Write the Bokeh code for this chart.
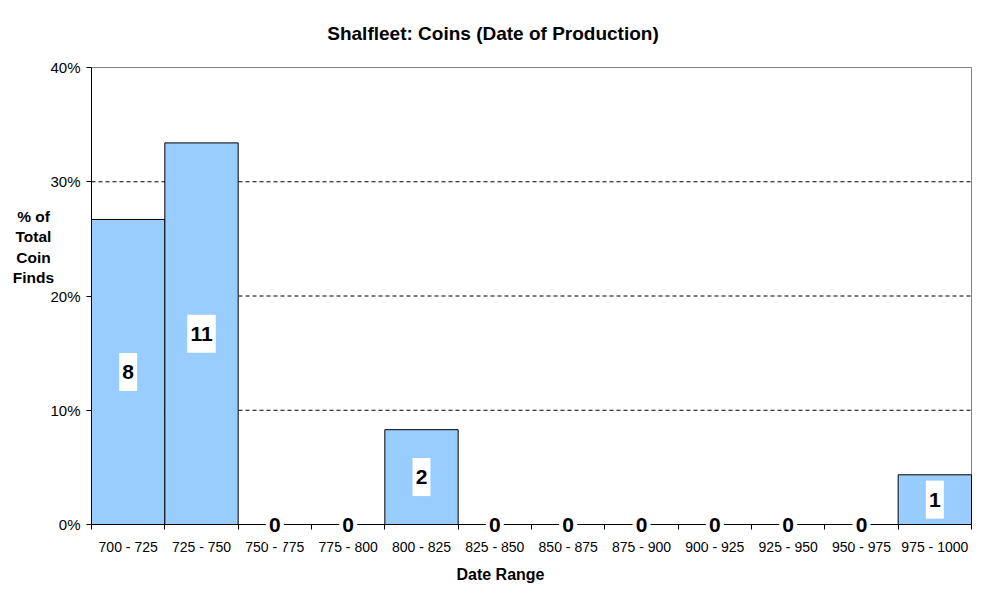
from bokeh.plotting import figure
from bokeh.models import (FixedTicker, PrintfTickFormatter, Range1d, Label,
                          LinearAxis, ColumnDataSource)
from bokeh.embed import file_html
from bokeh.resources import INLINE

date_ranges = ["700 - 725", "725 - 750", "750 - 775", "775 - 800", "800 - 825",
               "825 - 850", "850 - 875", "875 - 900", "900 - 925", "925 - 950",
               "950 - 975", "975 - 1000"]
coin_counts = [8, 11, 0, 0, 2, 0, 0, 0, 0, 0, 0, 1]
pct_of_total = [26.7, 33.4, 0, 0, 8.3, 0, 0, 0, 0, 0, 0, 4.35]
y_ticks = [0, 10, 20, 30, 40]

FONT = "Liberation Sans"
W, H = 987, 606
FL, FR, FT, FB = 91, 971, 67, 524          # plot-area edges in pixels

n = len(date_ranges)
centers = [i + 0.5 for i in range(n)]
edges = list(range(n + 1))
ymin, ymax = y_ticks[0], y_ticks[-1]
sx = (FR - FL) / n
sy = (FB - FT) / (ymax - ymin)


def px(xp, yp):
    return (xp - FL) / sx, ymin + (FB - yp) / sy


p = figure(width=W, height=H, output_backend="svg", toolbar_location=None,
           x_range=Range1d(-FL / sx, n + (W - FR) / sx),
           y_range=Range1d(ymin - (H - FB) / sy, ymax + FT / sy),
           x_axis_location=None, y_axis_location=None, min_border=0)
p.background_fill_color = "white"
p.border_fill_color = "white"
p.outline_line_color = None
p.grid.visible = False

# dashed grid lines across the plot area
grid_y = y_ticks[1:-1]
p.segment(x0=[0] * len(grid_y), x1=[n] * len(grid_y), y0=grid_y, y1=grid_y,
          line_color="black", line_dash="4 3", line_width=1)
# gray top / right border of plot area
p.segment(x0=[0, n], x1=[n, n], y0=[ymax, ymin], y1=[ymax, ymax],
          line_color="#808080", line_width=1)

labels = [str(c) for c in coin_counts]
src = ColumnDataSource(dict(
    x=centers, top=pct_of_total, mid=[v / 2 for v in pct_of_total],
    box_w=[7.5 + 10.5 * len(t) for t in labels],
))
p.vbar(x="x", top="top", bottom=0, width=1, source=src,
       fill_color="#99CCFF", line_color="black", line_width=1)

# y axis
yaxis = LinearAxis(fixed_location=0, bounds=(ymin, ymax),
                   ticker=FixedTicker(ticks=y_ticks, minor_ticks=[]),
                   formatter=PrintfTickFormatter(format="%d%%"))
yaxis.axis_line_color = "black"
yaxis.major_tick_line_color = "black"
yaxis.major_tick_in = 0
yaxis.major_tick_out = 5
yaxis.minor_tick_line_color = None
yaxis.major_label_text_font = FONT
yaxis.major_label_text_font_size = "15px"
yaxis.major_label_text_color = "black"
yaxis.major_label_standoff = 6
p.add_layout(yaxis, "left")

# x axis
xaxis = LinearAxis(fixed_location=0, bounds=(0, n),
                   ticker=FixedTicker(ticks=centers, minor_ticks=edges))
xaxis.major_label_overrides = {c: lab for c, lab in zip(centers, date_ranges)}
xaxis.axis_line_color = "black"
xaxis.major_tick_line_color = None
xaxis.major_tick_in = 0
xaxis.major_tick_out = 0
xaxis.minor_tick_line_color = "black"
xaxis.minor_tick_in = 0
xaxis.minor_tick_out = 5
xaxis.major_label_text_font = FONT
xaxis.major_label_text_font_size = "14px"
xaxis.major_label_text_color = "black"
xaxis.major_label_standoff = 9
p.add_layout(xaxis, "below")

# white boxes for the count labels (drawn above the axis line)
boxes = p.rect(x="x", y="mid", width="box_w", height=38, width_units="screen",
               height_units="screen", source=src, fill_color="white",
               line_color=None)
boxes.level = "annotation"

for xc, v, t in zip(centers, pct_of_total, labels):
    p.add_layout(Label(x=xc, y=v / 2, text=t, text_align="center",
                       text_baseline="middle", text_font=FONT,
                       text_font_style="bold", text_font_size="21px",
                       text_color="black", level="overlay"))

tx, ty = px(492.5, 32.5)
p.add_layout(Label(x=tx, y=ty, text="Shalfleet: Coins (Date of Production)",
                   text_align="center", text_baseline="middle", text_font=FONT,
                   text_font_style="bold", text_font_size="19px", text_color="black"))
lx, ly = px(33, 246.5)
p.add_layout(Label(x=lx, y=ly, text="% of\nTotal\nCoin\nFinds",
                   text_align="center", text_baseline="middle", text_font=FONT,
                   text_font_style="bold", text_font_size="15.5px", text_color="black",
                   text_line_height=1.2))
dx, dy = px(500, 573.5)
p.add_layout(Label(x=dx, y=dy, text="Date Range",
                   text_align="center", text_baseline="middle", text_font=FONT,
                   text_font_style="bold", text_font_size="16px", text_color="black"))

open("out.html", "w").write(file_html(p, INLINE))
